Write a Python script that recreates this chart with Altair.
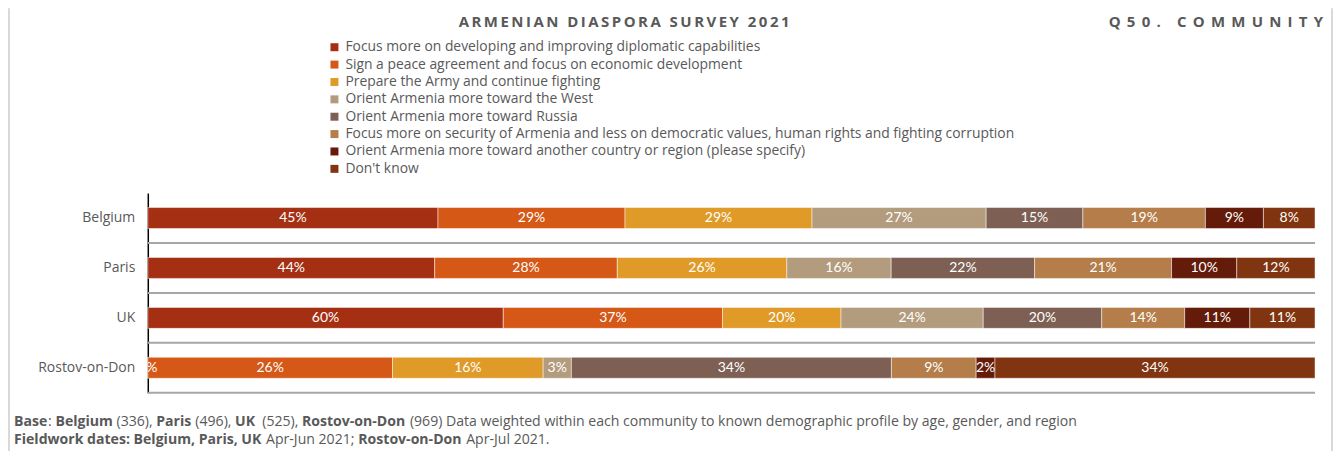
import altair as alt
import pandas as pd

communities = ["Belgium", "Paris", "UK", "Rostov-on-Don"]
options = [
    "Focus more on developing and improving diplomatic capabilities",
    "Sign a peace agreement and focus on economic development",
    "Prepare the Army and continue fighting",
    "Orient Armenia more toward the West",
    "Orient Armenia more toward Russia",
    "Focus more on security of Armenia and less on democratic values, human rights and fighting corruption",
    "Orient Armenia more toward another country or region (please specify)",
    "Don't know",
]
colors = ["#A52F12", "#D55816", "#E09A28", "#B39B7D", "#7D5F53", "#B47D4A", "#641B09", "#80340F"]
belgium = [45, 29, 29, 27, 15, 19, 9, 8]
paris = [44, 28, 26, 16, 22, 21, 10, 12]
uk = [60, 37, 20, 24, 20, 14, 11, 11]
rostov = [0, 26, 16, 3, 34, 9, 2, 34]

title_left = "ARMENIAN DIASPORA SURVEY 2021"
title_right = "Q50. COMMUNITY"
foot1 = [("Base", True), (": ", False), ("Belgium", True), (" (336), ", False), ("Paris", True),
         (" (496), ", False), ("UK", True), ("  (525), ", False), ("Rostov-on-Don", True),
         (" (969) Data weighted within each community to known demographic profile by age, gender, and region", False)]
foot2 = [("Fieldwork dates: Belgium, Paris, UK", True), (" Apr-Jun 2021; ", False), ("Rostov-on-Don", True),
         (" Apr-Jul 2021.", False)]

rows = []
for comm, vals in zip(communities, [belgium, paris, uk, rostov]):
    for i, (opt, v) in enumerate(zip(options, vals)):
        rows.append({"community": comm, "option": opt, "idx": i, "value": v})
df = pd.DataFrame(rows)

W, H = 1169, 200
GRAY = "#595959"
FONT = "Open Sans"

yscale = alt.Scale(domain=communities, paddingInner=0.58, paddingOuter=0.29)
xscale = alt.Scale(domain=[0, 1], nice=False)
yaxis = alt.Axis(title=None, domain=True, domainColor="#000000", domainWidth=1.5, ticks=False,
                 grid=False, labelFont=FONT, labelFontSize=14, labelColor=GRAY, labelPadding=13)
Y = alt.Y("community:N", sort=communities, scale=yscale, axis=yaxis)

base = alt.Chart(df)

bars = base.mark_bar(stroke="#FFFFFF", strokeWidth=0.8, strokeOpacity=0.6).encode(
    y=Y,
    x=alt.X("value:Q", stack="normalize", scale=xscale, axis=None),
    color=alt.Color("option:N", scale=alt.Scale(domain=options, range=colors),
                    legend=alt.Legend(title=None, orient="none", legendX=180, legendY=-153,
                                      direction="vertical", symbolType="square", symbolSize=64,
                                      symbolStrokeWidth=0, labelFont=FONT, labelFontSize=13.9,
                                      labelColor=GRAY, labelLimit=1000, rowPadding=2.4, labelOffset=4)),
    order=alt.Order("idx:Q", sort="ascending"),
)

labels = base.transform_joinaggregate(
    total="sum(value)", groupby=["community"]
).transform_window(
    cum="sum(value)", groupby=["community"], sort=[alt.SortField("idx")], frame=[None, 0]
).transform_calculate(
    mid="(datum.cum - datum.value / 2) / datum.total",
    label="datum.value + '%'",
).mark_text(color="white", font="Lato", fontSize=14, clip=True, baseline="middle").encode(
    y=Y,
    x=alt.X("mid:Q", scale=xscale, axis=None),
    text="label:N",
)

rules = base.transform_filter(alt.datum.idx == 0).mark_rule(
    color="#A6A6A6", strokeWidth=2, yOffset=25
).encode(y=Y)


def txt(text, x, y, **kw):
    return alt.Chart(pd.DataFrame({"t": [text]})).mark_text(**kw).encode(
        x=alt.value(x), y=alt.value(y), text="t:N")


def spaced(s, gap="\u2009"):
    return (gap + "\u00a0" + gap).join(gap.join(w) for w in s.split(" "))


# approximate Open Sans advance widths (em) used only to lay out the mixed-weight footnote
REG = {" ": .26, "(": .296, ")": .296, ",": .245, "-": .322, ".": .266, ":": .266, ";": .266, "'": .177,
       "A": .633, "B": .648, "C": .631, "D": .729, "F": .556, "I": .279, "J": .264, "K": .614, "P": .603,
       "R": .624, "U": .726, "a": .556, "b": .613, "c": .48, "d": .613, "e": .561, "f": .336, "g": .546,
       "h": .614, "i": .258, "j": .258, "k": .525, "l": .258, "m": .932, "n": .614, "o": .601, "p": .613,
       "r": .409, "s": .477, "t": .353, "u": .614, "v": .5, "w": .776, "y": .5, "z": .468}
BLD = {" ": .26, "(": .332, ")": .332, ",": .28, "-": .322, ".": .291, ":": .291, ";": .291,
       "B": .698, "D": .76, "F": .584, "K": .673, "P": .661, "R": .686, "U": .746, "I": .352,
       "a": .608, "b": .637, "d": .637, "e": .602, "g": .562, "i": .292, "k": .621, "l": .292, "m": .97,
       "n": .653, "o": .619, "r": .449, "s": .512, "t": .436, "u": .653, "v": .579, "w": .836, "y": .579}


def em_width(s, bold):
    table = BLD if bold else REG
    w = 0.0
    for ch in s:
        if ch.isdigit():
            w += .572
        else:
            w += table.get(ch, .6 if bold else .56)
    return w


x0 = 14 - 148
total_em = sum(em_width(s, b) for s, b in foot1)
fs = (1080 - 14) / total_em

layers = [rules, bars, labels]
layers.append(txt(spaced(title_left, "\u2009"), 477, -171, font=FONT, fontSize=15, fontWeight="bold",
                  color=GRAY, align="center", baseline="middle"))
layers.append(txt(spaced(title_right, "\u2005\u2009"), 1177, -171, font=FONT, fontSize=15,
                  fontWeight="bold", color=GRAY, align="right", baseline="middle"))

for segs, ypos in [(foot1, 229), (foot2, 247)]:
    cx = x0
    for s, b in segs:
        stripped = s.lstrip(" ")
        lead = (len(s) - len(stripped)) * REG[" "] * fs
        layers.append(txt(stripped.rstrip(" "), cx + lead, ypos, font=FONT, fontSize=fs,
                          fontWeight="bold" if b else "normal",
                          color=GRAY, align="left", baseline="middle"))
        cx += em_width(s, b) * fs

frame_df = pd.DataFrame({"k": [0]})
layers.append(alt.Chart(frame_df).mark_rule(color="#D9D9D9", strokeWidth=2).encode(
    x=alt.value(-139), y=alt.value(-185), y2=alt.value(260)))
layers.append(alt.Chart(frame_df).mark_rule(color="#D9D9D9", strokeWidth=2).encode(
    x=alt.value(1186), y=alt.value(-185), y2=alt.value(260)))

chart = alt.layer(*layers).properties(
    width=W, height=H,
    autosize=alt.AutoSizeParams(type="none"),
    padding={"left": 140, "top": 185, "right": 18, "bottom": 58},
).configure_view(stroke=None).resolve_scale(x="shared", y="shared")

chart.save("out.html", embed_options={"renderer": "svg", "actions": False})
